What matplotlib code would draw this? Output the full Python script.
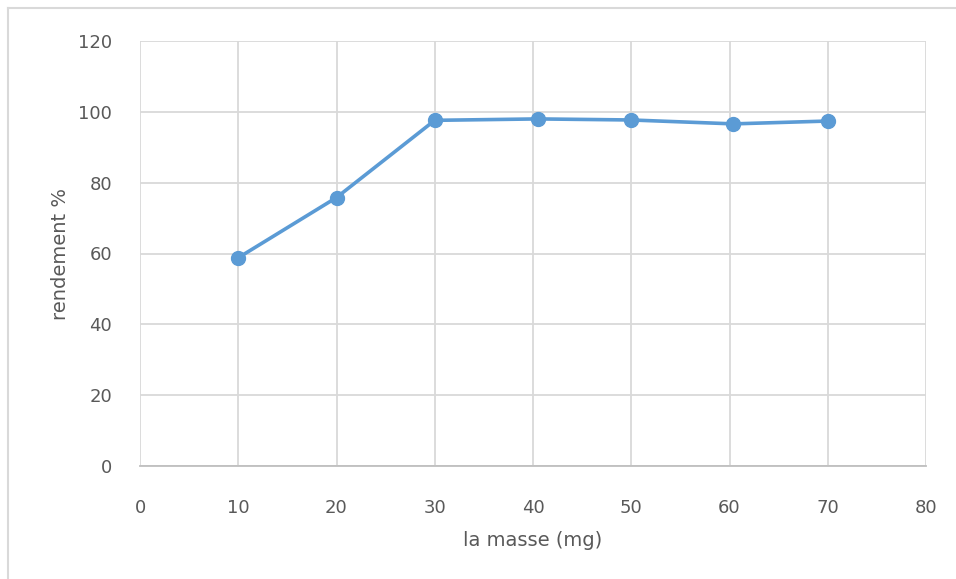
import matplotlib.pyplot as plt
from matplotlib.lines import Line2D

masse = [10, 20, 30, 40.5, 50, 60.4, 70]
rendement = [58.8, 75.8, 97.6, 98.0, 97.7, 96.6, 97.4]
xticks = [0, 10, 20, 30, 40, 50, 60, 70, 80]
yticks = [0, 20, 40, 60, 80, 100, 120]

txt = '#595959'
grid = '#d9d9d9'

fig = plt.figure(figsize=(9.56, 5.79), dpi=100)
ax = fig.add_axes([140/956, 1 - 466/579, 786/956, 425/579])

ax.plot(masse, rendement, '-o', color='#5b9bd5', lw=2.6, ms=10, zorder=3)

ax.set_xlim(0, 80)
ax.set_ylim(0, 120)
ax.set_xticks(xticks)
ax.set_yticks(yticks)
ax.grid(True, color=grid, lw=1.3)
ax.set_axisbelow(True)
for s in ['top', 'right', 'left']:
    ax.spines[s].set_visible(False)
ax.spines['bottom'].set_color('#bfbfbf')
ax.spines['bottom'].set_linewidth(1.3)
ax.tick_params(length=0, labelsize=13, labelcolor=txt)
ax.tick_params(axis='x', pad=24)
ax.tick_params(axis='y', pad=20)
ax.set_xlabel('la masse (mg)', fontsize=14, color=txt, labelpad=10)
ax.set_ylabel('rendement %', fontsize=14, color=txt, labelpad=6)

# outer chart frame
fig.add_artist(Line2D([8/956, 8/956], [0, 1 - 8/579], transform=fig.transFigure, color=grid, lw=1.5))
fig.add_artist(Line2D([8/956, 1], [1 - 8/579, 1 - 8/579], transform=fig.transFigure, color=grid, lw=1.5))

fig.savefig('out.png', dpi=100, facecolor='white')
